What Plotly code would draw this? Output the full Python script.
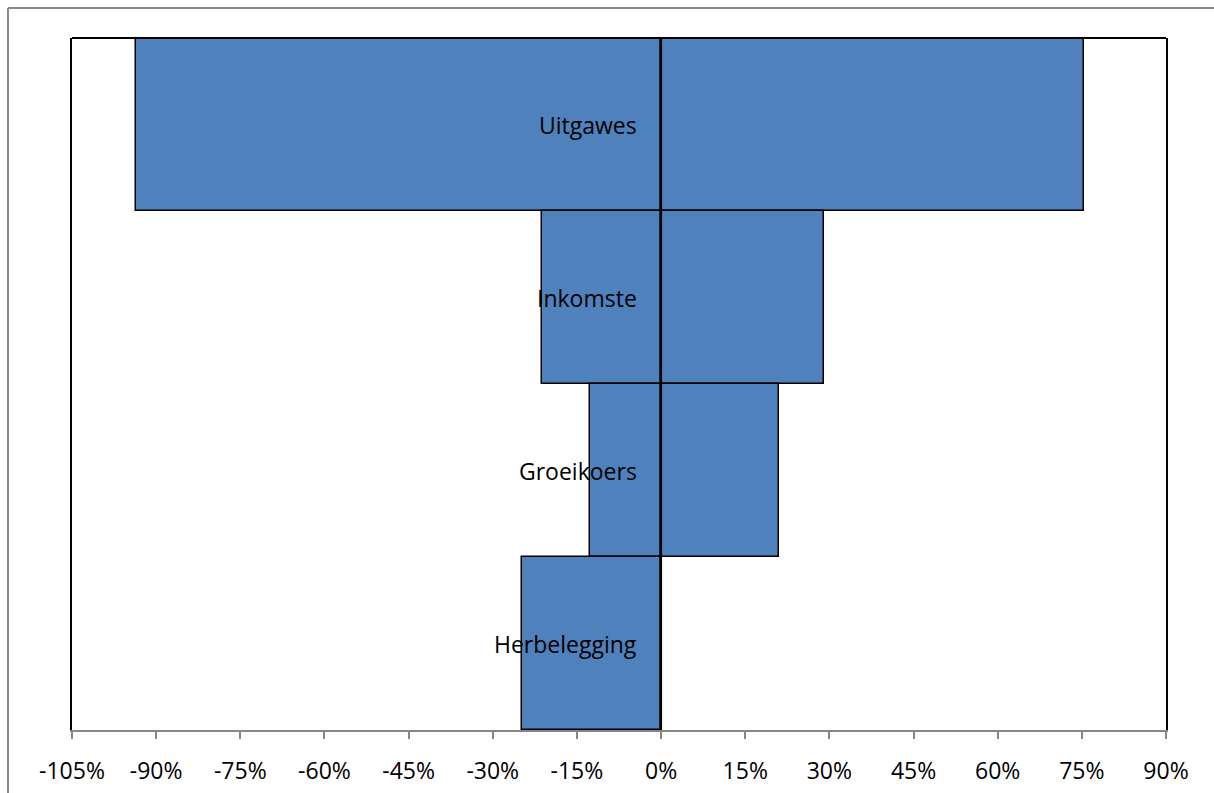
import plotly.graph_objects as go

# Categories from top to bottom
categories = ["Uitgawes", "Inkomste", "Groeikoers", "Herbelegging"]
negative_pct = [-93.6, -21.2, -12.6, -24.8]
positive_pct = [75.3, 29.1, 21, 0]
tick_values = list(range(-105, 91, 15))
tick_labels = [f"{v}%" for v in tick_values]

bar_fill = "#4F81BD"
font_family = "Open Sans, Noto Sans, sans-serif"

fig = go.Figure()
for vals in (negative_pct, positive_pct):
    fig.add_trace(go.Bar(
        y=categories,
        x=vals,
        orientation="h",
        marker=dict(color=bar_fill, line=dict(color="black", width=1.5)),
        showlegend=False,
        hoverinfo="x+y",
    ))

# Category names placed just left of the zero line
for cat in categories:
    fig.add_annotation(
        x=0, y=cat, xref="x", yref="y",
        text=cat, showarrow=False,
        xanchor="right", yanchor="middle", xshift=-22,
        font=dict(family=font_family, size=23, color="black"),
    )

fig.update_layout(
    width=1214, height=793,
    margin=dict(l=72, r=48, t=38, b=63),
    paper_bgcolor="white",
    plot_bgcolor="white",
    barmode="overlay",
    bargap=0,
    font=dict(family=font_family, size=23, color="black"),
    xaxis=dict(
        range=[-105, 90],
        tickmode="array",
        tickvals=tick_values,
        ticktext=tick_labels,
        showgrid=False,
        zeroline=False,
        showline=True,
        linecolor="#868686",
        linewidth=2,
        ticks="outside",
        ticklen=7,
        tickwidth=2,
        tickcolor="#868686",
        ticklabelstandoff=12,
        automargin=False,
        tickfont=dict(family=font_family, size=23, color="black"),
    ),
    yaxis=dict(
        categoryorder="array",
        categoryarray=categories[::-1],
        showticklabels=False,
        showgrid=False,
        zeroline=False,
        showline=True,
        mirror=True,
        linecolor="black",
        linewidth=2,
        ticks="",
        automargin=False,
    ),
    shapes=[
        # top edge of plot area
        dict(type="line", xref="paper", yref="paper", x0=0, x1=1, y0=1, y1=1,
             line=dict(color="black", width=2)),
        # vertical axis at zero
        dict(type="line", xref="x", yref="paper", x0=0, x1=0, y0=0, y1=1,
             line=dict(color="black", width=2)),
        # outer chart border (top and left edges)
        dict(type="line", xref="paper", yref="paper", x0=-0.0585, x1=1.2,
             y0=1.0434, y1=1.0434, line=dict(color="#898989", width=2)),
        dict(type="line", xref="paper", yref="paper", x0=-0.0585, x1=-0.0585,
             y0=1.0434, y1=-0.2, line=dict(color="#898989", width=2)),
    ],
)

fig.write_html("out.html")
